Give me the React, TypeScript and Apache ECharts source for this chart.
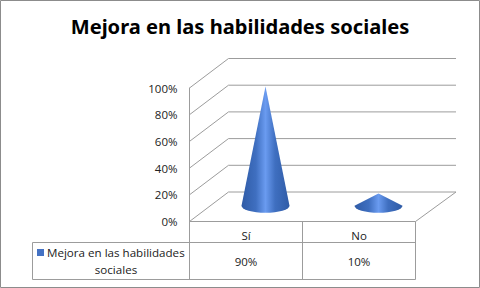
import React, { useEffect, useRef } from "react";
import * as echarts from "echarts";

const titleText = "Mejora en las habilidades sociales";
const categories = ["Sí", "No"];
const values = [0.9, 0.1];
const valueLabels = ["90%", "10%"];
const gridTicks = [0, 0.2, 0.4, 0.6, 0.8, 1];
const legendLines = ["Mejora en las habilidades", "sociales"];

const FONT = "'Open Sans', sans-serif";
const LINE = "#9c9c9c";
const DEPTH_X = 39;
const DEPTH_Y = -29.5;

export default function App() {
  const ref = useRef<HTMLDivElement>(null);
  useEffect(() => {
    const chart = echarts.init(ref.current!, null, { renderer: "svg" });
    const ln = { stroke: LINE, lineWidth: 1, fill: "none" };
    chart.setOption({
      animation: false,
      backgroundColor: "#fff",
      title: {
        text: titleText,
        left: "center",
        top: 11,
        textStyle: { fontFamily: "'Noto Sans', sans-serif", fontSize: 20.1, fontWeight: "bold", color: "#000" },
      },
      grid: { left: 189.5, right: 64.5, top: 88, bottom: 66.5 },
      xAxis: {
        type: "category",
        data: categories,
        axisLine: { show: false },
        axisTick: { show: false },
        axisLabel: { fontFamily: FONT, fontSize: 11.5, color: "#222", margin: 8 },
      },
      yAxis: {
        type: "value",
        min: 0,
        max: 1,
        interval: 0.2,
        axisLine: { show: true, lineStyle: { color: LINE } },
        axisTick: { show: false },
        splitLine: { show: false },
        axisLabel: {
          fontFamily: FONT,
          fontSize: 11.5,
          color: "#222",
          margin: 12,
          padding: [5, 0, 0, 0],
          formatter: (v: number) => Math.round(v * 100) + "%",
        },
      },
      series: [
        {
          type: "custom",
          coordinateSystem: "cartesian2d",
          data: gridTicks.map((t) => [0, t]),
          silent: true,
          z: 1,
          renderItem: (params: any, api: any) => {
            const p = api.coord([0, api.value(1)]);
            const r = params.coordSys;
            const x0 = r.x;
            const x1 = r.x + DEPTH_X;
            const x2 = r.x + r.width + 40.5;
            const y1 = p[1] + DEPTH_Y;
            const children: any[] = [
              { type: "polyline", shape: { points: [[x0, p[1]], [x1, y1], [x2, y1]] }, style: ln },
            ];
            if (api.value(1) === 0) {
              children.push({
                type: "polyline",
                shape: { points: [[x0, p[1]], [r.x + r.width, p[1]], [x2, y1]] },
                style: ln,
              });
            }
            return { type: "group", children };
          },
        },
        {
          type: "custom",
          coordinateSystem: "cartesian2d",
          data: categories.map((c, i) => [c, values[i], valueLabels[i]]),
          z: 3,
          encode: { x: 0, y: 1 },
          renderItem: (params: any, api: any) => {
            const base = api.coord([params.dataIndex, 0]);
            const top = api.coord([params.dataIndex, api.value(1)]);
            const cx = base[0] + DEPTH_X / 2;
            const by = base[1] + DEPTH_Y / 2 - 1;
            const ay = top[1] + DEPTH_Y / 2;
            const rx = 24;
            const ry = 7;
            const d = `M${cx} ${ay}L${cx + rx} ${by}A${rx} ${ry} 0 0 1 ${cx - rx} ${by}Z`;
            return {
              type: "group",
              children: [
                {
                  type: "path",
                  shape: { pathData: d, layout: "cover", x: cx - rx, y: ay, width: 2 * rx, height: by + ry - ay },
                  style: {
                    fill: new echarts.graphic.LinearGradient(0, 0, 1, 0, [
                      { offset: 0, color: "#2f5ba6" },
                      { offset: 0.3, color: "#3f6fc0" },
                      { offset: 0.5, color: "#6a9bf0" },
                      { offset: 0.7, color: "#3f6fc0" },
                      { offset: 1, color: "#2f5ba6" },
                    ]),
                  },
                },
                {
                  type: "text",
                  style: {
                    text: api.value(2),
                    x: base[0],
                    y: 261,
                    align: "center",
                    verticalAlign: "middle",
                    font: `11.5px ${FONT}`,
                    fill: "#222",
                  },
                },
              ],
            };
          },
        },
      ],
      graphic: [
        { type: "rect", shape: { x: 0.5, y: 0.5, width: 479, height: 287 }, style: { fill: "none", stroke: "#8c8c8c", lineWidth: 1 } },
        { type: "line", shape: { x1: 189.5, y1: 221.5, x2: 189.5, y2: 279.5 }, style: ln },
        { type: "line", shape: { x1: 302.5, y1: 221.5, x2: 302.5, y2: 279.5 }, style: ln },
        { type: "line", shape: { x1: 415.5, y1: 221.5, x2: 415.5, y2: 279.5 }, style: ln },
        { type: "line", shape: { x1: 32.5, y1: 242.5, x2: 415.5, y2: 242.5 }, style: ln },
        { type: "line", shape: { x1: 32.5, y1: 279.5, x2: 415.5, y2: 279.5 }, style: ln },
        { type: "line", shape: { x1: 32.5, y1: 242.5, x2: 32.5, y2: 279.5 }, style: ln },
        { type: "rect", shape: { x: 37, y: 249, width: 7, height: 7 }, style: { fill: "#4472c4" } },
        {
          type: "text",
          style: { text: legendLines[0], x: 47, y: 252, verticalAlign: "middle", font: `11.6px ${FONT}`, fill: "#222" },
        },
        {
          type: "text",
          style: { text: legendLines[1], x: 116, y: 269, align: "center", verticalAlign: "middle", font: `11.6px ${FONT}`, fill: "#222" },
        },
      ],
    });
    return () => chart.dispose();
  }, []);
  return <div ref={ref} style={{ position: "fixed", left: 0, top: 0, width: 480, height: 288 }} />;
}
